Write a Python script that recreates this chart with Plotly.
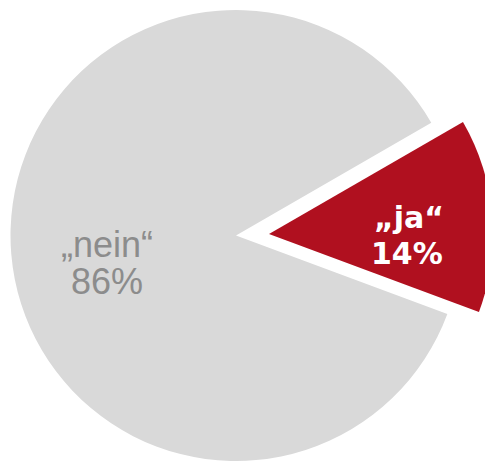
import plotly.graph_objects as go

labels = ["„ja“", "„nein“"]
values = [14, 86]
colors = ["#b0101f", "#d9d9d9"]
text_colors = ["#ffffff", "#8c8c8c"]

# the page puts the figure 8 px in from the top-left corner
W, H = 485, 453
clear = "rgba(0,0,0,0)"
total = sum(values)

fig = go.Figure()

# large (grey) slice, at the pie's own centre
fig.add_trace(go.Pie(
    labels=labels, values=values, sort=False, direction="clockwise", rotation=60,
    marker=dict(colors=[clear, colors[1]], line=dict(width=0)),
    textinfo="none",
    domain=dict(x=[2 / W, 454 / W], y=[0, 451 / H]),
    hoverinfo="skip", showlegend=False,
))

# exploded (red) slice, shifted outwards
fig.add_trace(go.Pie(
    labels=labels, values=values, sort=False, direction="clockwise", rotation=60,
    marker=dict(colors=[colors[0], clear], line=dict(width=0)),
    textinfo="none",
    domain=dict(x=[37 / W, 1.0], y=[3 / H, 451 / H]),
    hoverinfo="skip", showlegend=False,
))

def px(x, y):
    return x / W, 1 - y / H

# slice labels: name line and percentage line
label_pos = {
    1: [(99, 236), (99, 273.5)],    # „nein“
    0: [(401, 210), (399, 245)],    # „ja“
}
fonts = {
    1: dict(family="Liberation Sans, Arial", size=36, color=text_colors[1]),
    0: dict(family="DejaVu Sans, Verdana", size=30, color=text_colors[0], weight="bold"),
}
for i, ((x1, y1), (x2, y2)) in label_pos.items():
    pct = f"{round(100 * values[i] / total)}%"
    for (x, y), txt in (((x1, y1), labels[i]), ((x2, y2), pct)):
        ax, ay = px(x, y)
        fig.add_annotation(x=ax, y=ay, xref="paper", yref="paper", text=txt,
                           showarrow=False, xanchor="center", yanchor="middle",
                           font=fonts[i])

fig.update_layout(
    width=W, height=H,
    margin=dict(l=0, r=0, t=0, b=0),
    paper_bgcolor="white", plot_bgcolor="white",
    showlegend=False,
)

fig.write_html("out.html")
